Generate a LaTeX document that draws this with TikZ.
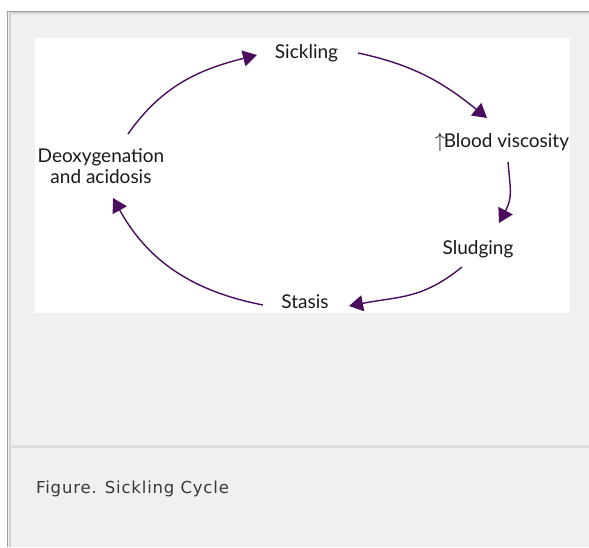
\documentclass[tikz,border=0pt]{standalone}
\usepackage{fontspec}
\setmainfont{Lato}
\newfontfamily\capfont[LetterSpace=5]{DejaVu Sans}
\usetikzlibrary{arrows.meta}
\definecolor{cyc}{HTML}{4A0D5E}
\definecolor{pagebg}{HTML}{F0F0F0}
\definecolor{rule}{HTML}{DCDCDC}

\begin{document}
\begin{tikzpicture}[x=1pt,y=1pt,
  lbl/.style={inner sep=0pt,font=\fontsize{19}{21}\selectfont,text=black!90,align=center},
  arr/.style={draw=cyc,line width=1.4pt,-{Triangle[length=14pt,width=16pt]}}]
\useasboundingbox (0,0) rectangle (589,547);
% frame and panel
\fill[white] (0,0) rectangle (589,547);
\fill[pagebg] (8,0) rectangle (589,535);
\draw[line width=2pt,gray!35] (9.5,0) -- (9.5,533.5) -- (589,533.5);
\draw[line width=1pt,gray!75] (7.5,0) -- (7.5,535.5) -- (589,535.5);
\fill[white] (35,234) rectangle (570,509);
\fill[rule] (10,99) rectangle (589,102);
% labels
\node[lbl,anchor=base] (sick) at (306.5,488) {Sickling};
\node[lbl,anchor=base] (blood) at (502,399) {{\fontsize{21}{21}\selectfont$\uparrow$}\kern-1.5pt Blood viscosity};
\node[lbl,anchor=base] (slud) at (478,292) {Sludging};
\node[lbl,anchor=base] (stas) at (305,239) {Stasis};
\node[lbl] (deox) at (101,381) {Deoxygenation\\and acidosis};
% cycle
\draw[arr] ([shift={(27,32)}]deox.center) to[out=55,in=194] ([shift={(-49.5,4)}]sick.base);
\draw[arr] ([shift={(51.5,6)}]sick.base) to[out=-12,in=141] ([shift={(-15,30)}]blood.base);
\draw[arr] ([shift={(6,-14)}]blood.base) to[out=-85,in=62,looseness=1.2] ([shift={(21,32)}]slud.base);
\draw[arr] ([shift={(-16,-12)}]slud.base) to[out=-141,in=11,looseness=1.1] ([shift={(44,2)}]stas.base);
\draw[arr] ([shift={(-42,3)}]stas.base) to[out=169,in=-61] ([shift={(12,-32)}]deox.center);
% caption
\node[anchor=base west,inner sep=0pt,font=\capfont\fontsize{16.5}{19}\selectfont,text=black!78] (cap) at (36,54) {Figure. Sickling Cycle};
\end{tikzpicture}
\end{document}
